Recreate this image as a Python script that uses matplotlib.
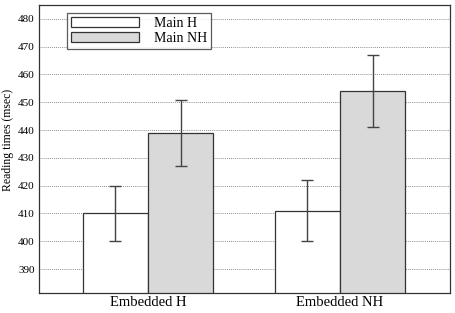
import matplotlib
matplotlib.use("Agg")
import matplotlib.pyplot as plt
import numpy as np

categories = ["Embedded H", "Embedded NH"]
series_names = ["Main H", "Main NH"]
main_h = [410, 411]
main_nh = [439, 454]
main_h_err_low = [400, 400]
main_h_err_high = [420, 422]
main_nh_err_low = [427, 441]
main_nh_err_high = [451, 467]
yticks = [390, 400, 410, 420, 430, 440, 450, 460, 470, 480]

plt.rcParams['font.family'] = ['Liberation Serif', 'DejaVu Serif']

fig = plt.figure(figsize=(4.56, 3.13), dpi=100)
ax = fig.add_axes([0.0855, 0.064, 0.9015, 0.92])

x = np.arange(len(categories))
w = 0.34
vals = [main_h, main_nh]
lows = [main_h_err_low, main_nh_err_low]
highs = [main_h_err_high, main_nh_err_high]
colors = ["white", "#d9d9d9"]
offsets = [-w / 2, w / 2]
for name, v, lo, hi, c, off in zip(series_names, vals, lows, highs, colors, offsets):
    v = np.array(v); lo = np.array(lo); hi = np.array(hi)
    ax.bar(x + off, v, width=w, color=c, edgecolor="#333333", linewidth=0.9,
           label=name, zorder=2)
    ax.errorbar(x + off, v, yerr=[v - lo, hi - v], fmt="none", ecolor="#444444",
                elinewidth=1.0, capsize=4, capthick=1.0, zorder=3)

ax.set_xlim(-0.568, 1.573)
ax.set_ylim(381.4, 485)
ax.set_yticks(yticks)
ax.set_xticks(x)
ax.set_xticklabels(categories, fontsize=10.5)
ax.tick_params(axis="x", length=0, pad=2)
ax.tick_params(axis="y", length=0, pad=3, labelsize=8)
ax.yaxis.grid(True, linestyle=(0, (1, 1.5)), color="#666666", linewidth=0.6, zorder=0)
ax.set_axisbelow(True)
for s in ax.spines.values():
    s.set_color("#333333")
    s.set_linewidth(0.9)
ax.set_ylabel("Reading times (msec)", fontsize=8.5)
ax.yaxis.set_label_coords(-0.062, 0.531)

leg = ax.legend(loc="upper left", bbox_to_anchor=(0.068, 0.972), fontsize=10,
                frameon=True, fancybox=False, edgecolor="#333333",
                handlelength=4.9, handleheight=0.75, borderpad=0.3,
                labelspacing=0.1, handletextpad=1.05, borderaxespad=0)
leg.get_frame().set_linewidth(0.9)

fig.savefig("out.png", dpi=100)
